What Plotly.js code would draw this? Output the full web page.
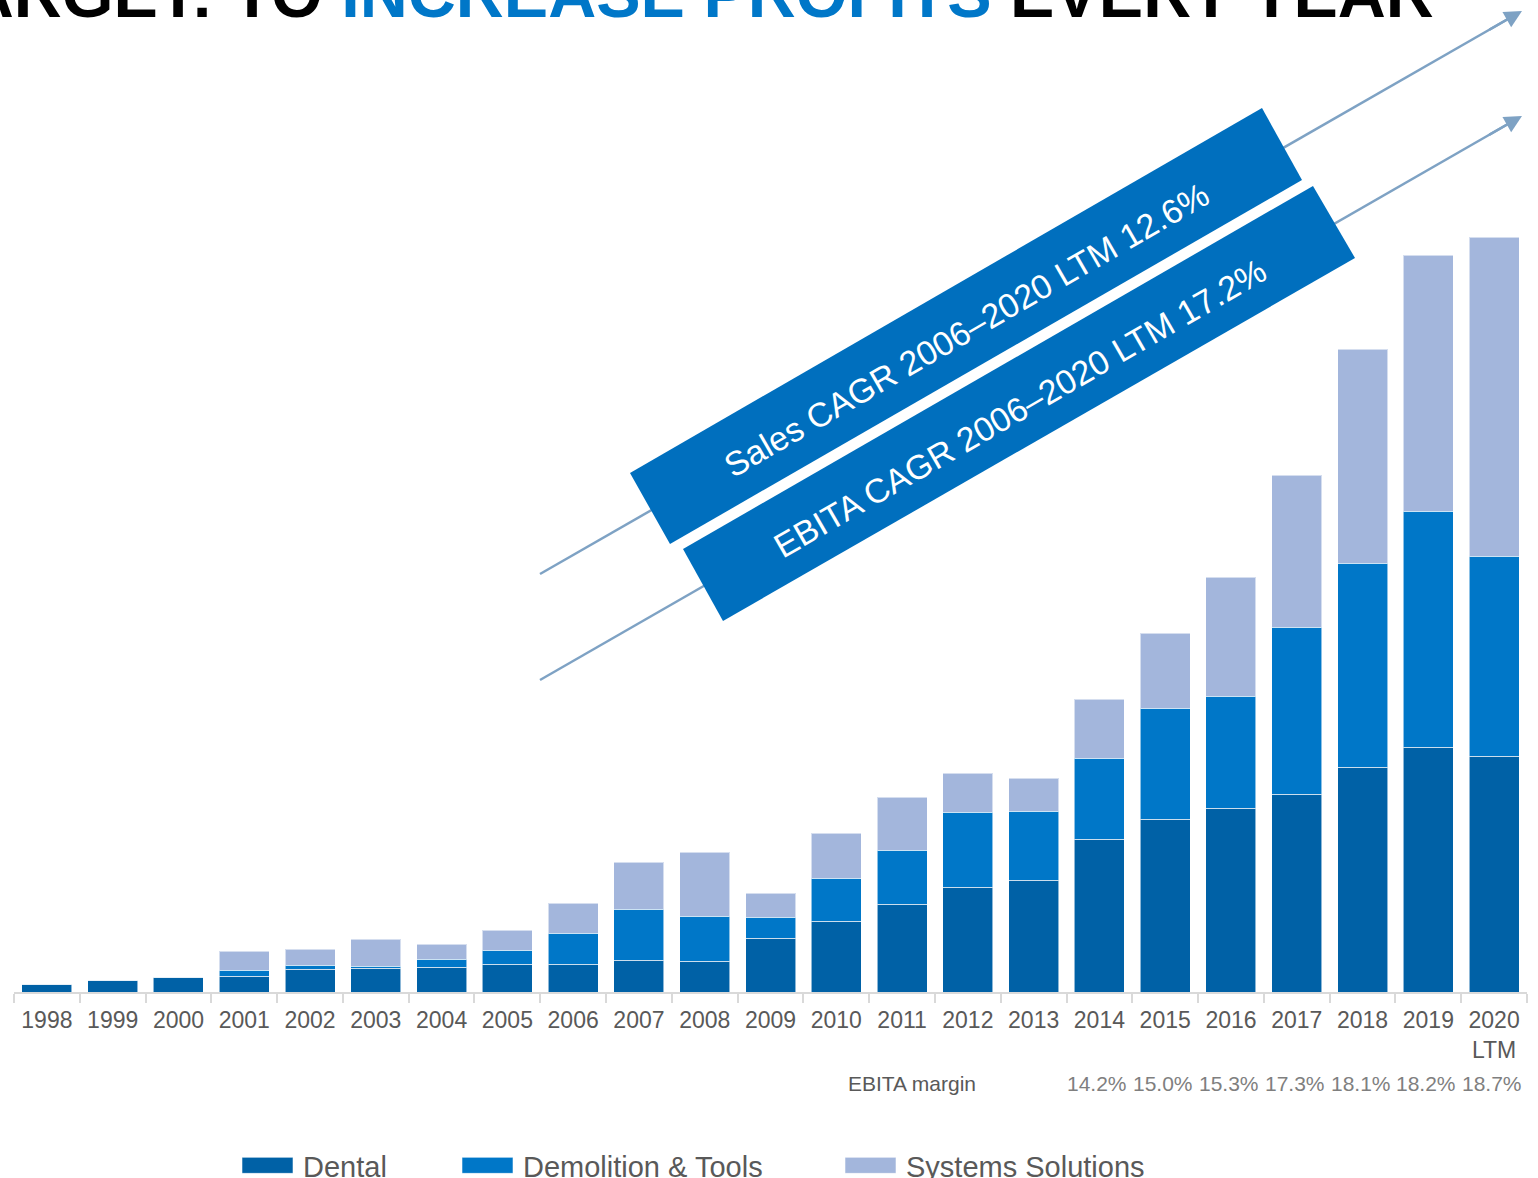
<!DOCTYPE html>
<html>
<head>
<meta charset="utf-8">
<script src="https://cdn.plot.ly/plotly-3.0.1.min.js"></script>
<style>
  html, body { margin: 0; padding: 0; background: #fff; }
  #chart { width: 1538px; height: 1178px; }
</style>
</head>
<body>
<div id="chart"></div>
<script>
// ---- data (arbitrary units) ----
const categories = ['1998','1999','2000','2001','2002','2003','2004','2005','2006','2007','2008','2009','2010','2011','2012','2013','2014','2015','2016','2017','2018','2019','2020<br>LTM'];
const dental     = [8, 12, 15, 16, 23, 24, 25, 28, 28, 32, 31, 54, 71, 88, 105, 112, 153, 173, 184, 198, 225, 245, 236];
const demolition = [0, 0, 0, 6, 4, 2, 8, 14, 31, 51, 45, 21, 43, 54, 75, 69, 81, 111, 112, 167, 204, 236, 200];
const systems    = [0, 0, 0, 19, 16, 27, 15, 20, 30, 47, 64, 24, 45, 53, 39, 33, 59, 75, 119, 152, 214, 256, 319];
const marginYears  = ['2014','2015','2016','2017','2018','2019','2020<br>LTM'];
const ebitaMargins = [14.2, 15.0, 15.3, 17.3, 18.1, 18.2, 18.7];
const seriesNames  = ['Dental', 'Demolition & Tools', 'Systems Solutions'];
const bannerTexts  = ['Sales CAGR 2006–2020 LTM 12.6%', 'EBITA CAGR 2006–2020 LTM 17.2%'];

// ---- layout geometry ----
const W = 1538, H = 1178;
const M = { l: 14, r: 11, t: 30, b: 186 };
const plotW = W - M.l - M.r, plotH = H - M.t - M.b;
const px = X => (X - M.l) / plotW;           // page pixel -> paper x
const py = Y => (H - M.b - Y) / plotH;        // page pixel -> paper y
const pathOf = pts => 'M' + pts.map(p => px(p[0]).toFixed(5) + ',' + py(p[1]).toFixed(5)).join(' L') + ' Z';

const colors = ['#0061a6', '#0077c8', '#a3b6dc'];
const FONT = 'Liberation Sans, Arial, sans-serif';
const barLine = { color: 'rgba(255,255,255,0.55)', width: 1 };
const legendIds = ['legend', 'legend2', 'legend3'];
const legendStarts = [242, 462, 845];

const traces = [dental, demolition, systems].map((vals, i) => ({
  type: 'bar', name: seriesNames[i], x: categories, y: vals,
  marker: { color: colors[i], line: barLine },
  legend: legendIds[i],
  hoverinfo: 'x+y+name'
}));

const arrowColor = '#7ea2c4';
const bannerColor = '#006fbe';

const shapes = [
  { type: 'line', xref: 'paper', yref: 'paper', x0: px(540), y0: py(574), x1: px(1508), y1: py(19),
    line: { color: arrowColor, width: 2.5 }, layer: 'above' },
  { type: 'line', xref: 'paper', yref: 'paper', x0: px(540), y0: py(680), x1: px(1508), y1: py(124),
    line: { color: arrowColor, width: 2.5 }, layer: 'above' },
  { type: 'path', xref: 'paper', yref: 'paper', layer: 'above', line: { width: 0 }, fillcolor: bannerColor,
    path: pathOf([[630,473],[1262,108],[1302,180],[670,544]]) },
  { type: 'path', xref: 'paper', yref: 'paper', layer: 'above', line: { width: 0 }, fillcolor: bannerColor,
    path: pathOf([[683,549],[1313,186],[1355,258],[723,621]]) }
];

const annotations = [
  // cropped headline
  { xref: 'paper', yref: 'paper', x: px(1436), y: py(33), xanchor: 'right', yanchor: 'bottom', showarrow: false,
    text: '<b>TARGET: TO <span style="color:#0077c8">INCREASE PROFITS</span> EVERY YEAR</b>',
    font: { family: FONT, size: 66.5, color: '#000000' } },
  // arrow heads
  { xref: 'paper', yref: 'paper', x: px(1522), y: py(11), ax: -34, ay: 19.5, text: '', showarrow: true,
    arrowhead: 2, arrowsize: 1.4, arrowwidth: 2.5, arrowcolor: arrowColor },
  { xref: 'paper', yref: 'paper', x: px(1522), y: py(116), ax: -34, ay: 19.5, text: '', showarrow: true,
    arrowhead: 2, arrowsize: 1.4, arrowwidth: 2.5, arrowcolor: arrowColor },
  // banner texts
  { xref: 'paper', yref: 'paper', x: px(966), y: py(330), xanchor: 'center', yanchor: 'middle', showarrow: false,
    textangle: -30, text: bannerTexts[0], font: { family: FONT, size: 34, color: '#ffffff' } },
  { xref: 'paper', yref: 'paper', x: px(1020), y: py(408), xanchor: 'center', yanchor: 'middle', showarrow: false,
    textangle: -30, text: bannerTexts[1], font: { family: FONT, size: 34, color: '#ffffff' } },
  // EBITA margin label
  { xref: 'paper', yref: 'paper', x: px(912), y: py(1083), xanchor: 'center', yanchor: 'middle', showarrow: false,
    text: 'EBITA margin', font: { family: FONT, size: 21, color: '#595959' } }
].concat(marginYears.map((yr, i) => ({
  xref: 'x', yref: 'paper', x: categories.indexOf(yr), y: py(1083), xanchor: 'center', yanchor: 'middle', showarrow: false,
  xshift: -2,
  text: ebitaMargins[i].toFixed(1) + '%', font: { family: FONT, size: 21, color: '#7f7f7f' }
})));

const layout = {
  width: W, height: H,
  margin: Object.assign({ autoexpand: false, pad: 0 }, M),
  paper_bgcolor: '#ffffff', plot_bgcolor: '#ffffff',
  barmode: 'stack', bargap: 0.24,
  font: { family: FONT, color: '#595959' },
  xaxis: {
    type: 'category', categoryorder: 'array', categoryarray: categories,
    range: [-0.5, categories.length - 0.5], showgrid: false, zeroline: false,
    showline: true, linecolor: '#d9d9d9', linewidth: 2,
    ticks: 'outside', tickson: 'boundaries', ticklen: 9, tickwidth: 2, tickcolor: '#d9d9d9',
    tickangle: 0, ticklabelstandoff: 6, tickfont: { family: FONT, size: 23, color: '#595959' }
  },
  yaxis: { visible: false, range: [0, plotH], fixedrange: true },
  showlegend: true,
  shapes: shapes,
  annotations: annotations
};
legendIds.forEach((id, i) => {
  layout[id] = {
    orientation: 'h', xref: 'paper', yref: 'paper', x: px(legendStarts[i]), y: py(1140),
    xanchor: 'left', yanchor: 'top',
    font: { family: FONT, size: 29, color: '#595959' }, itemwidth: 51,
    bgcolor: 'rgba(0,0,0,0)'
  };
});

// widen legend swatches to the reference's flat 51x16 rectangles
// (symbol origin sits 30.5px right of the item start; text begins at +61px)
const SWATCH_D = 'M20.5,8H-30.5V-8H20.5Z';
function widenSwatches() {
  document.querySelectorAll('.legendpoints path').forEach(path => {
    if (path.getAttribute('d') !== SWATCH_D) path.setAttribute('d', SWATCH_D);
  });
}

const gd = document.getElementById('chart');
const obs = new MutationObserver(widenSwatches);
obs.observe(gd, { childList: true, subtree: true, attributes: true, attributeFilter: ['d'] });
Plotly.newPlot(gd, traces, layout, { displayModeBar: false, staticPlot: true }).then(() => {
  widenSwatches();
  requestAnimationFrame(widenSwatches);
  [20, 100, 300].forEach(t => setTimeout(widenSwatches, t));
  setTimeout(() => obs.disconnect(), 3000);
});
</script>
</body>
</html>
